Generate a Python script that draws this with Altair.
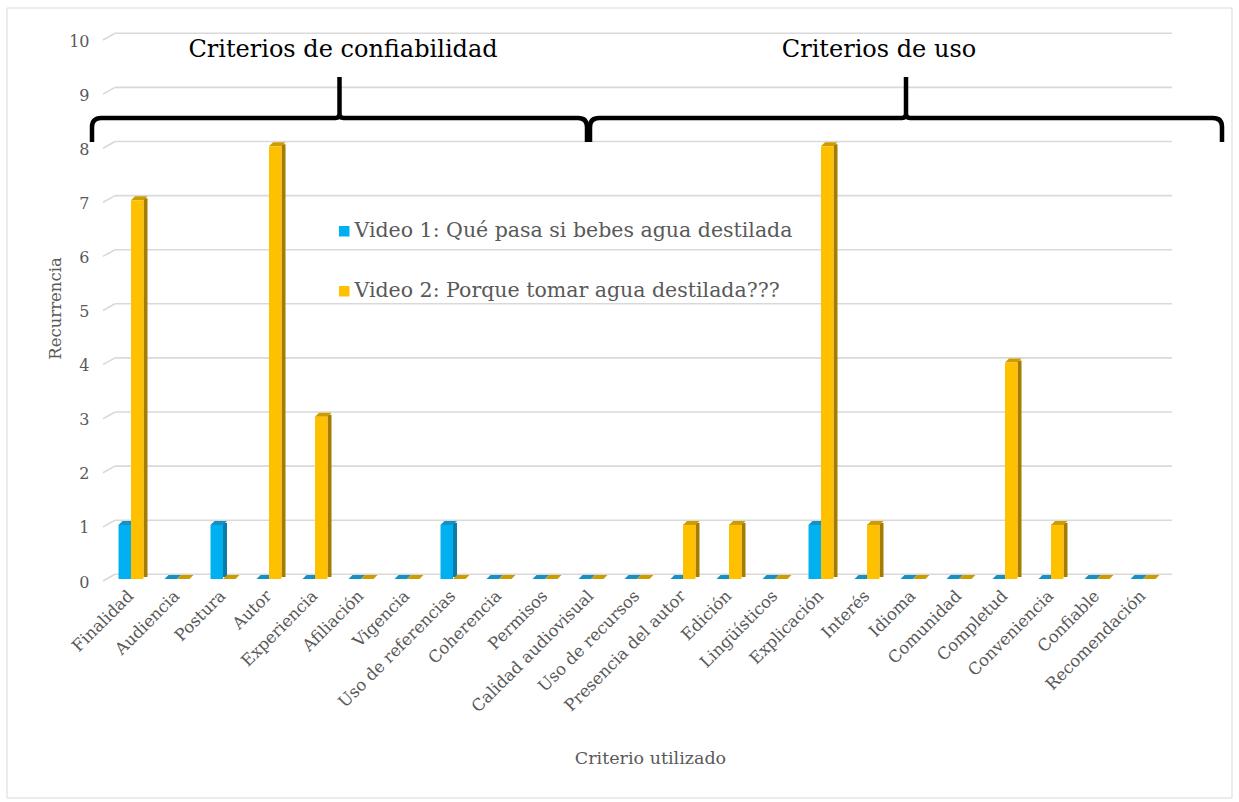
import altair as alt
import pandas as pd

# --- data -------------------------------------------------------------
categories = [
    "Finalidad", "Audiencia", "Postura", "Autor", "Experiencia", "Afiliación",
    "Vigencia", "Uso de referencias", "Coherencia", "Permisos",
    "Calidad audiovisual", "Uso de recursos", "Presencia del autor", "Edición",
    "Lingüísticos", "Explicación", "Interés", "Idioma", "Comunidad",
    "Completud", "Conveniencia", "Confiable", "Recomendación",
]
video1 = [1, 0, 1, 0, 0, 0, 0, 1, 0, 0, 0, 0, 0, 0, 0, 1, 0, 0, 0, 0, 0, 0, 0]
video2 = [7, 0, 0, 8, 3, 0, 0, 0, 0, 0, 0, 0, 1, 1, 0, 8, 1, 0, 0, 4, 1, 0, 0]
series_names = [
    "Video 1: Qué pasa si bebes agua destilada",
    "Video 2: Porque tomar agua destilada???",
]
y_ticks = list(range(0, 11))
group_titles = ["Criterios de confiabilidad", "Criterios de uso"]

# --- layout / style ---------------------------------------------------
W, H = 1058, 541
PAD = {"left": 108, "top": 38, "right": 73, "bottom": 223}
FONT = "DejaVu Serif"
GRAY_TXT = "#595959"
GRID = "#d9d9d9"
FRONT = ["#00B0F0", "#FFC000"]
SIDE = ["#0a7ca8", "#a67c00"]
TOP = ["#1591c4", "#cc9c00"]
DEPTH = 4          # pixel depth of the 3D bar sides
SUB = 12.5         # width of one bar's front face

rows = []
for i, c in enumerate(categories):
    rows.append({"criterio": c, "serie": series_names[0], "valor": video1[i]})
    rows.append({"criterio": c, "serie": series_names[1], "valor": video2[i]})
df = pd.DataFrame(rows)
ticks_df = pd.DataFrame({"valor": y_ticks})

x_enc = alt.X(
    "criterio:N", sort=categories,
    scale=alt.Scale(paddingInner=0.457, paddingOuter=0.2285),
    axis=alt.Axis(
        title="Criterio utilizado", labelAngle=-45, labelAlign="right",
        labelBaseline="middle", labelFont=FONT, labelFontSize=16.5,
        labelColor=GRAY_TXT, labelPadding=14, labelLimit=400, ticks=False,
        domain=False, titleFont=FONT, titleFontSize=17.5, titleFontWeight="normal",
        titleColor=GRAY_TXT, titleX=542, titleY=179, titleAlign="center",
        titleBaseline="middle",
    ),
)
x_off = alt.XOffset("serie:N", sort=series_names,
                    scale=alt.Scale(paddingInner=0, paddingOuter=0))
y_enc = alt.Y(
    "valor:Q", scale=alt.Scale(domain=[0, 10], nice=False),
    axis=alt.Axis(
        title="Recurrencia", values=y_ticks, grid=False, ticks=False, domain=False,
        labelFont=FONT, labelFontSize=16, labelColor=GRAY_TXT, labelPadding=19,
        labelBaseline="middle", labelOffset=3,
        titleFont=FONT, titleFontSize=16.5, titleFontWeight="normal",
        titleColor=GRAY_TXT, titleX=-53, titleY=270, titleAngle=-90,
        titleAlign="center", titleBaseline="middle",
    ),
)


def by_series(colors):
    return alt.condition(alt.datum.serie == series_names[0],
                         alt.value(colors[0]), alt.value(colors[1]))


# back-wall gridlines and the short slanted connectors to the labels
grid = alt.Chart(ticks_df).mark_rule(color=GRID, strokeWidth=1.6, yOffset=-4.7).encode(
    y=y_enc, x=alt.value(7), x2=alt.value(1064)
)
connectors = alt.Chart(ticks_df).mark_rule(
    color=GRID, strokeWidth=1.6, yOffset=2, y2Offset=-4.7
).encode(y=y_enc, y2=alt.Y2("valor:Q"), x=alt.value(-5), x2=alt.value(7))

# 3D columns: side faces (one layer per series), top faces, then front faces
sides = []
for i, name in enumerate(series_names):
    sides.append(
        alt.Chart(df).transform_filter(alt.datum.serie == name)
        .transform_calculate(base="0")
        .mark_rule(
            strokeWidth=DEPTH, strokeCap="butt", color=SIDE[i],
            xOffset=SUB * i + DEPTH / 2, yOffset=-DEPTH / 2, y2Offset=-DEPTH / 2,
        )
        .encode(x=x_enc, y=y_enc, y2=alt.Y2("base:Q"))
    )

r = 10.0
top_shape = (
    f"M {-SUB / 2 / r:.4f} 0 L {SUB / 2 / r:.4f} 0 "
    f"L {(SUB / 2 + DEPTH) / r:.4f} {-DEPTH / r:.4f} "
    f"L {(-SUB / 2 + DEPTH) / r:.4f} {-DEPTH / r:.4f} Z"
)
top = alt.Chart(df).mark_point(
    shape=top_shape, filled=True, size=(2 * r) ** 2, opacity=1, strokeWidth=0
).encode(x=x_enc, xOffset=x_off, y=y_enc, color=by_series(TOP))

front = alt.Chart(df).mark_bar().encode(
    x=x_enc, xOffset=x_off, y=y_enc,
    color=alt.Color(
        "serie:N", sort=series_names,
        scale=alt.Scale(domain=series_names, range=FRONT),
        legend=alt.Legend(
            title=None, orient="none", legendX=226, legendY=183,
            symbolType="square", symbolSize=110, symbolStrokeWidth=0,
            labelFont=FONT, labelFontSize=20.5, labelColor=GRAY_TXT,
            labelOffset=0, rowPadding=39, labelLimit=600,
        ),
    ),
)


# curly braces over the two groups of criteria
def brace_path(width, up, down, rad=9, flare=4):
    h = width / 2.0
    s = lambda v: f"{v / h:.5f}"
    return (
        f"M {s(-h)} {s(down)} L {s(-h)} {s(rad)} Q {s(-h)} 0 {s(-h + rad)} 0 "
        f"L {s(-flare)} 0 Q 0 0 0 {s(-flare)} L 0 {s(-up)} "
        f"M 0 {s(-flare)} Q 0 0 {s(flare)} 0 "
        f"L {s(h - rad)} 0 Q {s(h)} 0 {s(h)} {s(rad)} L {s(h)} {s(down)}"
    )


brace_specs = [  # (left px, right px, title centre px) in plot coordinates
    (92 - 108, 587 - 108, 343 - 108),
    (590 - 108, 1222 - 108, 879 - 108),
]
annot = []
one = pd.DataFrame({"k": [0]})
for (lx, rx, tx), title in zip(brace_specs, group_titles):
    wbr = rx - lx
    annot.append(
        alt.Chart(one).mark_point(
            shape=brace_path(wbr, up=41, down=24), filled=False, size=wbr ** 2,
            stroke="black", strokeWidth=4.5, opacity=1,
        ).encode(x=alt.value((lx + rx) / 2), y=alt.value(118 - 38))
    )
    annot.append(
        alt.Chart(one).mark_text(
            text=title, font=FONT, fontSize=24, color="black",
            align="center", baseline="middle",
        ).encode(x=alt.value(tx), y=alt.value(50 - 38))
    )

border = alt.Chart(one).mark_rect(
    filled=False, stroke=GRID, strokeWidth=1
).encode(x=alt.value(7 - 108), x2=alt.value(1232 - 108),
         y=alt.value(8 - 38), y2=alt.value(798 - 38))

chart = alt.layer(border, grid, connectors, *sides, top, front, *annot).properties(
    width=W, height=H, padding=PAD,
    autosize=alt.AutoSizeParams(type="none"),
    background="white",
).configure_view(stroke=None)

chart.save("out.html", embed_options={"renderer": "svg", "actions": False})
